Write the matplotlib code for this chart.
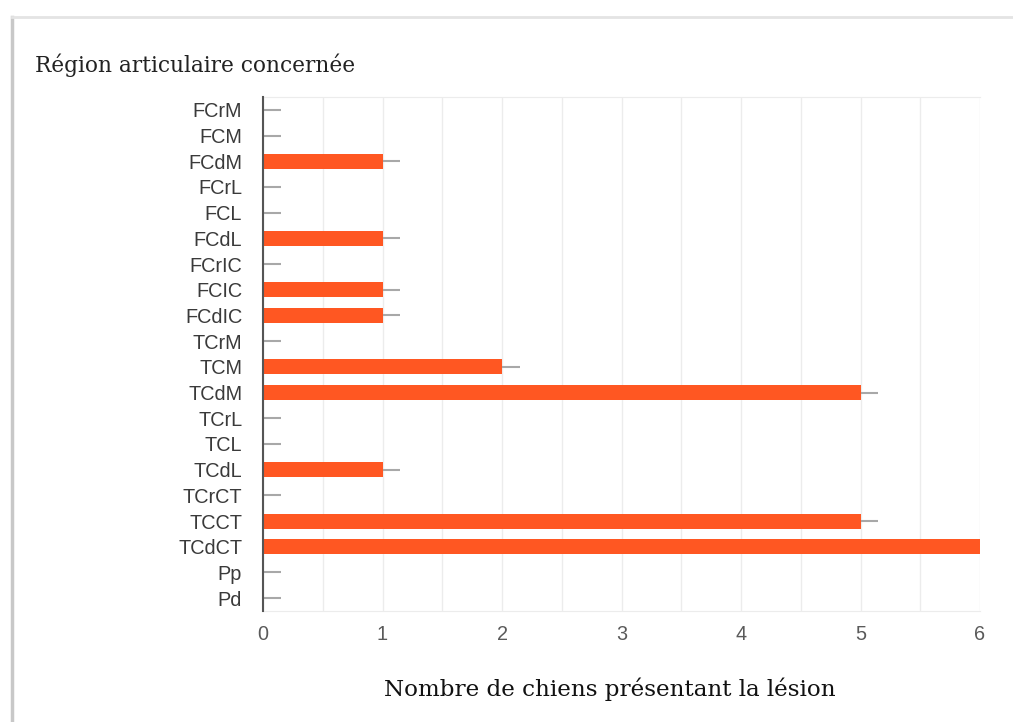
import matplotlib.pyplot as plt
from matplotlib.lines import Line2D

# Régions articulaires (de haut en bas) et nombre de chiens
regions = ["FCrM", "FCM", "FCdM", "FCrL", "FCL", "FCdL", "FCrIC", "FCIC", "FCdIC",
           "TCrM", "TCM", "TCdM", "TCrL", "TCL", "TCdL", "TCrCT", "TCCT", "TCdCT",
           "Pp", "Pd"]
nb_chiens = [0, 0, 1, 0, 0, 1, 0, 1, 1,
             0, 2, 5, 0, 0, 1, 0, 5, 6,
             0, 0]
x_ticks = [0, 1, 2, 3, 4, 5, 6]

BAR_COLOR = "#FF5722"
STUB = 0.15

fig = plt.figure(figsize=(10.13, 7.22), dpi=100)
ax = fig.add_axes([263 / 1013, 1 - 611 / 722, 717 / 1013, 514 / 722])

y = list(range(len(regions)))
ax.barh(y, nb_chiens, height=0.58, color=BAR_COLOR, zorder=3)
# petits traits gris au bout de chaque barre
ax.hlines(y, nb_chiens, [v + STUB for v in nb_chiens], color="#a8a8a8",
          linewidth=1.5, zorder=2)

ax.set_ylim(len(regions) - 0.5, -0.5)
ax.set_xlim(0, 6)
ax.set_yticks(y)
ax.set_yticklabels(regions, family="Liberation Sans", fontsize=14.3, color="#3a3a3a")
ax.set_xticks(x_ticks)
ax.set_xticklabels([str(t) for t in x_ticks], family="Liberation Sans",
                   fontsize=14.3, color="#5a5a5a")
ax.set_xticks([t + 0.5 for t in x_ticks[:-1]], minor=True)
ax.tick_params(axis="both", length=0, which="both")
ax.tick_params(axis="y", pad=15)
ax.tick_params(axis="x", pad=10)
ax.grid(axis="x", which="both", color="#ececec", linewidth=1, zorder=0)

for side in ["top", "bottom", "right"]:
    ax.spines[side].set_color("#ececec")
ax.spines["right"].set_visible(False)
ax.spines["left"].set_color("#555555")
ax.spines["left"].set_linewidth(1.5)
ax.spines["left"].set_zorder(4)

fig.text(35 / 1013, 1 - 65 / 722, "Région articulaire concernée",
         family="DejaVu Serif", fontsize=15.6, va="center", ha="left", color="#222222")
fig.text(610 / 1013, 1 - 689 / 722, "Nombre de chiens présentant la lésion",
         family="DejaVu Serif", fontsize=16.6, va="center", ha="center", color="#111111")

# bord de la carte
fig.add_artist(Line2D([12 / 1013, 12 / 1013], [0, 1 - 17 / 722], color="#c8c8c8",
                      linewidth=2.5, transform=fig.transFigure))
fig.add_artist(Line2D([12 / 1013, 1], [1 - 17 / 722, 1 - 17 / 722], color="#e4e4e4",
                      linewidth=2, transform=fig.transFigure))

fig.savefig("out.png", dpi=100)
